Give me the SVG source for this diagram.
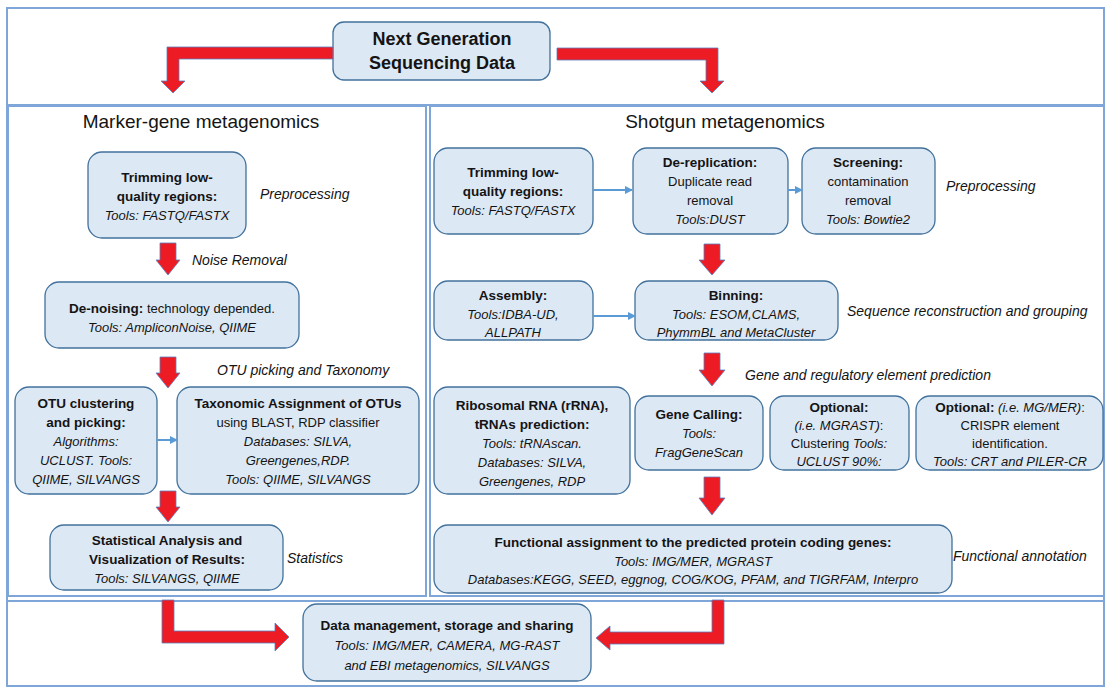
<svg xmlns="http://www.w3.org/2000/svg" width="1105" height="689" viewBox="0 0 1105 689">
<style>
text{font-family:"Liberation Sans",Arial,sans-serif;font-size:13px;fill:#141414}
.b{font-weight:bold;font-size:13.5px}
.i{font-style:italic}
.lbl{font-style:italic;font-size:14px}
.title{font-size:19px}
.ngs{font-weight:bold;font-size:18px}
.box{fill:#DCE8F4;stroke:#41719C;stroke-width:1.3}
.frame{fill:none;stroke:#7EA6D9;stroke-width:2}
.red{fill:#ED1C24;stroke:#5B7FBF;stroke-width:0.8}
.conn{fill:none;stroke:#5B9BD5;stroke-width:2;marker-end:url(#ah)}
</style>
<defs>
<marker id="ah" markerUnits="userSpaceOnUse" markerWidth="8" markerHeight="8" viewBox="0 0 8 8" refX="7" refY="4" orient="auto">
<path d="M0,0 L8,4 L0,8 z" fill="#5B9BD5"/>
</marker>
</defs>
<rect width="1105" height="689" fill="#ffffff"/>
<g id="frames">
<rect class="frame" x="7" y="8" width="1097" height="678"/>
<line class="frame" x1="7" y1="105" x2="1104" y2="105"/>
<rect class="frame" x="8" y="106" width="418" height="490"/>
<rect class="frame" x="430" y="106" width="674" height="490"/>
<line class="frame" x1="7" y1="601" x2="1104" y2="601"/>
</g>
<g id="titles">
<text class="title" x="201" y="128" text-anchor="middle">Marker-gene metagenomics</text>
<text class="title" x="725" y="128" text-anchor="middle">Shotgun metagenomics</text>
</g>
<g id="labels">
<text class="lbl" x="260" y="199">Preprocessing</text>
<text class="lbl" x="192" y="265">Noise Removal</text>
<text class="lbl" x="217" y="375">OTU picking and Taxonomy</text>
<text class="lbl" x="287" y="563">Statistics</text>
<text class="lbl" x="946" y="191">Preprocessing</text>
<text class="lbl" x="847" y="316">Sequence reconstruction and grouping</text>
<text class="lbl" x="745" y="380">Gene and regulatory element prediction</text>
<text class="lbl" x="953" y="561">Functional annotation</text>
</g>
<g id="ngs">
<rect class="box" x="333" y="22" width="217" height="58" rx="11"/>
<text class="ngs" x="442" y="45" text-anchor="middle">Next Generation</text>
<text class="ngs" x="442" y="69" text-anchor="middle">Sequencing Data</text>
</g>
<g id="mg-trim">
<rect class="box" x="88" y="152" width="158" height="86" rx="14"/>
<text x="167" y="182" text-anchor="middle"><tspan class="b">Trimming low-</tspan><tspan x="167" dy="19" class="b">quality regions:</tspan><tspan x="167" dy="19" class="i">Tools: FASTQ/FASTX</tspan></text>
</g>
<g id="mg-denoise">
<rect class="box" x="45" y="282" width="254" height="66" rx="14"/>
<text x="172" y="313" text-anchor="middle"><tspan class="b">De-noising:</tspan> technology depended.<tspan x="172" dy="19" class="i">Tools: AmpliconNoise, QIIME</tspan></text>
</g>
<g id="mg-otu">
<rect class="box" x="15" y="387" width="142" height="107" rx="14"/>
<text x="86" y="408" text-anchor="middle"><tspan class="b">OTU clustering</tspan><tspan x="86" dy="19" class="b">and picking:</tspan><tspan x="86" dy="19" class="i">Algorithms:</tspan><tspan x="86" dy="19" class="i">UCLUST. Tools:</tspan><tspan x="86" dy="19" class="i">QIIME, SILVANGS</tspan></text>
</g>
<g id="mg-tax">
<rect class="box" x="177" y="387" width="242" height="107" rx="14"/>
<text x="298" y="408" text-anchor="middle"><tspan class="b">Taxonomic Assignment of OTUs</tspan><tspan x="298" dy="19">using BLAST, RDP classifier</tspan><tspan x="298" dy="19" class="i">Databases: SILVA,</tspan><tspan x="298" dy="19" class="i">Greengenes,RDP.</tspan><tspan x="298" dy="19" class="i">Tools: QIIME, SILVANGS</tspan></text>
</g>
<g id="mg-stat">
<rect class="box" x="50" y="525" width="233" height="65" rx="14"/>
<text x="167" y="545" text-anchor="middle"><tspan class="b">Statistical Analysis and</tspan><tspan x="167" dy="19" class="b">Visualization of Results:</tspan><tspan x="167" dy="19" class="i">Tools: SILVANGS, QIIME</tspan></text>
</g>
<g id="sg-trim">
<rect class="box" x="434" y="148" width="159" height="86" rx="14"/>
<text x="513" y="177" text-anchor="middle"><tspan class="b">Trimming low-</tspan><tspan x="513" dy="19" class="b">quality regions:</tspan><tspan x="513" dy="19" class="i">Tools: FASTQ/FASTX</tspan></text>
</g>
<g id="sg-derep">
<rect class="box" x="633" y="148" width="155" height="86" rx="14"/>
<text x="710" y="167" text-anchor="middle"><tspan class="b">De-replication:</tspan><tspan x="710" dy="19">Duplicate read</tspan><tspan x="710" dy="19">removal</tspan><tspan x="710" dy="19" class="i">Tools:DUST</tspan></text>
</g>
<g id="sg-screen">
<rect class="box" x="802" y="148" width="133" height="86" rx="14"/>
<text x="868" y="167" text-anchor="middle"><tspan class="b">Screening:</tspan><tspan x="868" dy="19">contamination</tspan><tspan x="868" dy="19">removal</tspan><tspan x="868" dy="19" class="i">Tools: Bowtie2</tspan></text>
</g>
<g id="sg-assembly">
<rect class="box" x="434" y="281" width="159" height="59" rx="14"/>
<text x="513" y="300" text-anchor="middle"><tspan class="b">Assembly:</tspan><tspan x="513" dy="18.5" class="i">Tools:IDBA-UD,</tspan><tspan x="513" dy="18.5" class="i">ALLPATH</tspan></text>
</g>
<g id="sg-binning">
<rect class="box" x="635" y="281" width="203" height="59" rx="14"/>
<text x="736" y="300" text-anchor="middle"><tspan class="b">Binning:</tspan><tspan x="736" dy="18.5" class="i">Tools: ESOM,CLAMS,</tspan><tspan x="736" dy="18.5" class="i">PhymmBL and MetaCluster</tspan></text>
</g>
<g id="sg-rrna">
<rect class="box" x="434" y="387" width="196" height="107" rx="14"/>
<text x="532" y="410" text-anchor="middle"><tspan class="b">Ribosomal RNA (rRNA),</tspan><tspan x="532" dy="19" class="b">tRNAs prediction:</tspan><tspan x="532" dy="19" class="i">Tools: tRNAscan.</tspan><tspan x="532" dy="19" class="i">Databases: SILVA,</tspan><tspan x="532" dy="19" class="i">Greengenes, RDP</tspan></text>
</g>
<g id="sg-genecall">
<rect class="box" x="635" y="396" width="128" height="74" rx="14"/>
<text x="699" y="419" text-anchor="middle"><tspan class="b">Gene Calling:</tspan><tspan x="699" dy="19" class="i">Tools:</tspan><tspan x="699" dy="19" class="i">FragGeneScan</tspan></text>
</g>
<g id="sg-opt1">
<rect class="box" x="770" y="396" width="139" height="74" rx="14"/>
<text x="839" y="412" text-anchor="middle"><tspan class="b">Optional:</tspan><tspan x="839" dy="18" class="i">(i.e. MGRAST)</tspan>:<tspan x="839" dy="18">Clustering <tspan class="i">Tools:</tspan></tspan><tspan x="839" dy="18" class="i">UCLUST 90%:</tspan></text>
</g>
<g id="sg-opt2">
<rect class="box" x="916" y="396" width="187" height="74" rx="14"/>
<text x="1010" y="412" text-anchor="middle"><tspan class="b">Optional:</tspan><tspan class="i"> (i.e. MG/MER)</tspan>:<tspan x="1010" dy="18">CRISPR element</tspan><tspan x="1010" dy="18">identification.</tspan><tspan x="1010" dy="18" class="i">Tools: CRT and PILER-CR</tspan></text>
</g>
<g id="sg-func">
<rect class="box" x="434" y="525" width="518" height="68" rx="14"/>
<text x="693" y="547" text-anchor="middle"><tspan class="b">Functional assignment to the predicted protein coding genes:</tspan><tspan x="693" dy="18.5" class="i">Tools: IMG/MER, MGRAST</tspan><tspan x="693" dy="18.5" class="i">Databases:KEGG, SEED, eggnog, COG/KOG, PFAM, and TIGRFAM, Interpro</tspan></text>
</g>
<g id="data-mgmt">
<rect class="box" x="303" y="604" width="288" height="77" rx="14"/>
<text x="447" y="630" text-anchor="middle"><tspan class="b">Data management, storage and sharing</tspan><tspan x="447" dy="20" class="i">Tools: IMG/MER, CAMERA, MG-RAST</tspan><tspan x="447" dy="20" class="i">and EBI metagenomics, SILVANGS</tspan></text>
</g>
<g id="connectors">
<polygon class="red" points="333,47 333,59 179,59 179,81 185,81 173,93 161,81 167,81 167,47"/>
<polygon class="red" points="557,48 718,48 718,81 724,81 712,93 700,81 706,81 706,60 557,60"/>
<polygon class="red" points="160,243 176,243 176,260 180,260 168,275 156,260 160,260"/>
<polygon class="red" points="160,357 176,357 176,373 180,373 168,388 156,373 160,373"/>
<polygon class="red" points="160,491 176,491 176,507 180,507 168,522 156,507 160,507"/>
<polygon class="red" points="704,244 720,244 720,260 725,260 712,275 699,260 704,260"/>
<polygon class="red" points="704,353 720,353 720,370 725,370 712,386 699,370 704,370"/>
<polygon class="red" points="704,477 720,477 720,498 725,498 712,515 699,498 704,498"/>
<polygon class="red" points="162,600 174,600 174,631 275,631 275,623 289,637 275,651 275,643 162,643"/>
<polygon class="red" points="712,600 724,600 724,644 610,644 610,650 596,638 610,626 610,632 712,632"/>
<line class="conn" x1="157" y1="440" x2="177" y2="440"/>
<line class="conn" x1="593" y1="190" x2="632" y2="190"/>
<line class="conn" x1="788" y1="190" x2="802" y2="190"/>
<line class="conn" x1="593" y1="316" x2="635" y2="316"/>
</g>
</svg>
